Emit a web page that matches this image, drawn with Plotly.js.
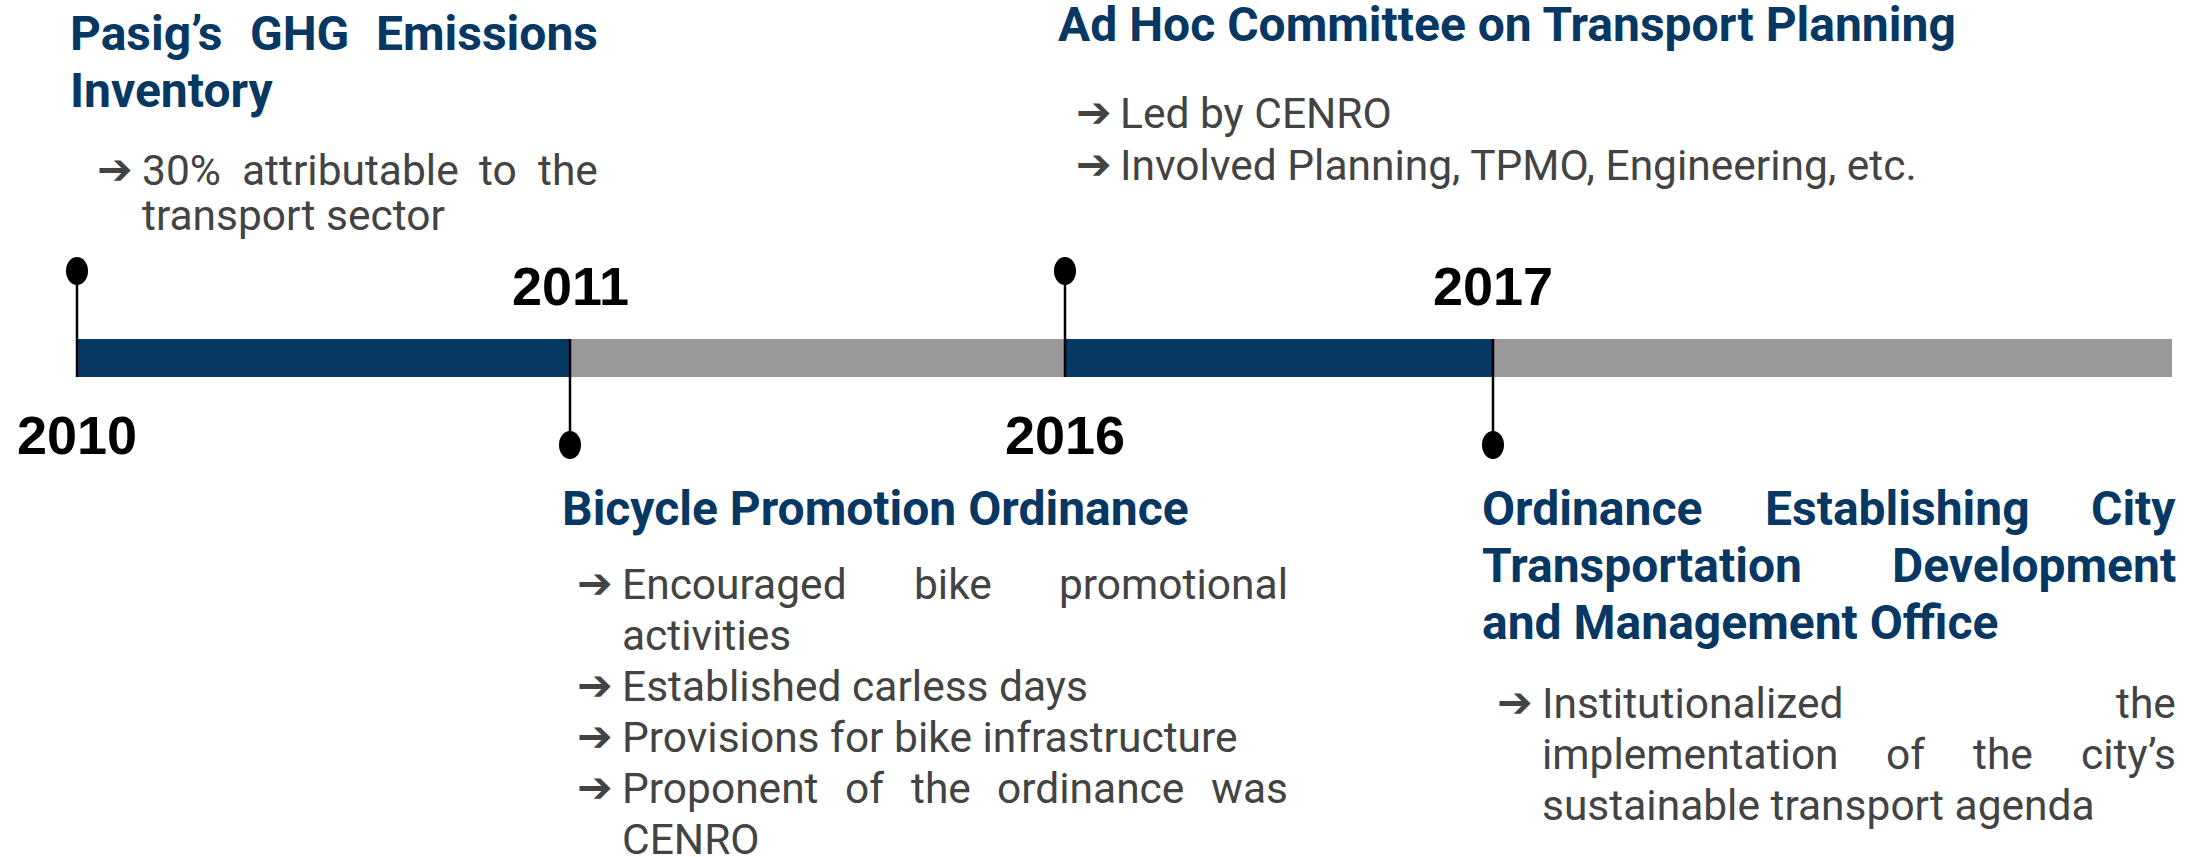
<!DOCTYPE html>
<html>
<head>
<meta charset="utf-8">
<script src="https://cdn.plot.ly/plotly-3.0.1.min.js"></script>
<style>
  html, body { margin: 0; padding: 0; background: #ffffff; }
  #chart { width: 2203px; height: 857px; }
</style>
</head>
<body>
<div id="chart"></div>
<script>
// ---------------- DATA ----------------
const years = ['2010', '2011', '2016', '2017'];
const stemSide = ['up', 'down', 'up', 'down'];
const segmentKind = ['active', 'idle', 'active', 'idle'];

const headingLines = [
  ['Pasig’s GHG Emissions', 'Inventory'],
  ['Bicycle Promotion Ordinance'],
  ['Ad Hoc Committee on Transport Planning'],
  ['Ordinance Establishing City', 'Transportation Development', 'and Management Office']
];
const bulletLines = [
  [['30% attributable to the', 'transport sector']],
  [['Encouraged bike promotional', 'activities'],
   ['Established carless days'],
   ['Provisions for bike infrastructure'],
   ['Proponent of the ordinance was', 'CENRO']],
  [['Led by CENRO'],
   ['Involved Planning, TPMO, Engineering, etc.']],
  [['Institutionalized the', 'implementation of the city’s', 'sustainable transport agenda']]
];

// ---------------- LAYOUT / STYLE ----------------
const W = 2203, H = 857;
const NAVY = '#073763', GRAY = '#999999', TEXT = '#434343';
const milestoneX = [77, 570, 1065, 1493];
const timelineEnd = 2172;
const barTop = 339, barBottom = 377;
const upDotY = 271, downDotY = 445;
const dotRX = 11, dotRY = 14;
const yearUpBase = 305, yearDownBase = 454;
const YEAR_FS = 54;
const HEAD_FS = 48, BODY_FS = 42.5;

const blocks = [
  {left: 70, right: 598, headBase: 50, headPitch: 57, arrowX: 97, textLeft: 142, bodyBase: 185, bodyPitch: 45},
  {left: 562, right: 1288, headBase: 525, headPitch: 57, arrowX: 577, textLeft: 622, bodyBase: 599, bodyPitch: 51},
  {left: 1058, right: 1960, headBase: 41, headPitch: 57, arrowX: 1076, textLeft: 1120, bodyBase: 128, bodyPitch: 52},
  {left: 1482, right: 2176, headBase: 525, headPitch: 57, arrowX: 1497, textLeft: 1542, bodyBase: 718, bodyPitch: 51}
];

const canvas = document.createElement('canvas');
const ctx = canvas.getContext('2d');
function measure(text, weight, size, family) {
  ctx.font = weight + ' ' + size + 'px ' + family;
  return ctx.measureText(text).width;
}

function build() {
  const traces = [];
  // timeline segments as horizontal bars
  const segStarts = milestoneX.slice();
  const segEnds = milestoneX.slice(1).concat([timelineEnd]);
  segmentKind.forEach((k, i) => {
    traces.push({
      type: 'bar', orientation: 'h',
      y: [(barTop + barBottom) / 2], base: [segStarts[i]], x: [segEnds[i] - segStarts[i]],
      width: barBottom - barTop,
      marker: {color: k === 'active' ? NAVY : GRAY, line: {width: 0}},
      hoverinfo: 'skip', showlegend: false
    });
  });
  // stems
  years.forEach((yr, i) => {
    const up = stemSide[i] === 'up';
    traces.push({
      type: 'scatter', mode: 'lines',
      x: [milestoneX[i], milestoneX[i]],
      y: up ? [upDotY, barBottom] : [barTop, downDotY],
      line: {color: '#000000', width: 2.5},
      hoverinfo: 'skip', showlegend: false
    });
  });

  const shapes = years.map((yr, i) => {
    const cy = stemSide[i] === 'up' ? upDotY : downDotY;
    return {type: 'circle', xref: 'x', yref: 'y', layer: 'above',
      x0: milestoneX[i] - dotRX, x1: milestoneX[i] + dotRX, y0: cy - dotRY, y1: cy + dotRY,
      fillcolor: '#000000', line: {width: 0}};
  });

  const annotations = [];
  function ann(text, x, baseline, xanchor, size, family, bold, color, k) {
    annotations.push({
      text: bold ? '<b>' + text + '</b>' : text,
      x: x, y: baseline - k * size, xref: 'x', yref: 'y',
      xanchor: xanchor, yanchor: 'middle', showarrow: false,
      borderpad: 0, borderwidth: 0,
      font: {family: family, size: size, color: color}
    });
  }
  const KROB = 0.342;
  function line(text, x0, x1, baseline, size, bold, color, justify) {
    const weight = bold ? 'bold' : 'normal';
    if (!justify) { ann(text, x0, baseline, 'left', size, 'Roboto', bold, color, KROB); return; }
    const words = text.split(' ');
    const widths = words.map(w => measure(w, weight, size, 'Roboto'));
    const total = widths.reduce((a, b) => a + b, 0);
    const gap = (x1 - x0 - total) / (words.length - 1);
    let x = x0;
    words.forEach((w, i) => {
      if (i === words.length - 1) ann(w, x1, baseline, 'right', size, 'Roboto', bold, color, KROB);
      else ann(w, x, baseline, 'left', size, 'Roboto', bold, color, KROB);
      x += widths[i] + gap;
    });
  }

  blocks.forEach((b, bi) => {
    const hl = headingLines[bi];
    hl.forEach((t, li) => {
      line(t, b.left, b.right, b.headBase + li * b.headPitch, HEAD_FS, true, NAVY, li < hl.length - 1);
    });
    let li = 0;
    bulletLines[bi].forEach(par => {
      par.forEach((t, pi) => {
        const base = b.bodyBase + li * b.bodyPitch;
        if (pi === 0) ann('➔', b.arrowX, base, 'left', BODY_FS, 'DejaVu Sans', true, TEXT, 0.36);
        line(t, b.textLeft, b.right, base, BODY_FS, false, TEXT, pi < par.length - 1);
        li++;
      });
    });
  });

  years.forEach((yr, i) => {
    const base = stemSide[i] === 'up' ? yearDownBase : yearUpBase;
    ann(yr, milestoneX[i], base, 'center', YEAR_FS, 'Liberation Sans, Arial, sans-serif', true, '#000000', 0.3465);
  });

  const layout = {
    width: W, height: H,
    margin: {l: 0, r: 0, t: 0, b: 0},
    paper_bgcolor: '#ffffff', plot_bgcolor: '#ffffff',
    barmode: 'overlay', showlegend: false,
    xaxis: {range: [0, W], visible: false, fixedrange: true},
    yaxis: {range: [H, 0], visible: false, fixedrange: true},
    shapes: shapes, annotations: annotations
  };
  Plotly.newPlot('chart', traces, layout, {staticPlot: true, displayModeBar: false});
}

const loads = [
  'bold 48px Roboto', '42.5px Roboto', 'bold 54px "Liberation Sans"', 'bold 42.5px "DejaVu Sans"'
].map(f => (document.fonts && document.fonts.load) ? document.fonts.load(f).catch(() => null) : Promise.resolve());
Promise.all(loads).then(build, build);
</script>
</body>
</html>
